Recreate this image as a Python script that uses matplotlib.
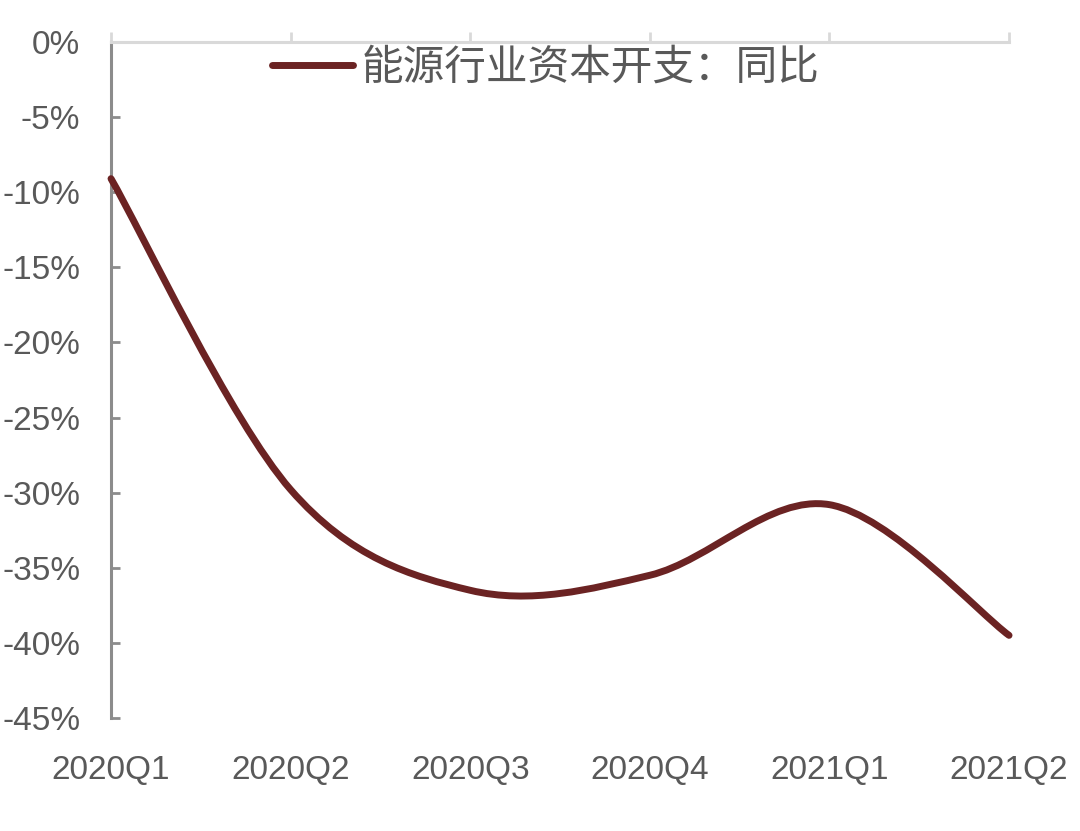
import matplotlib
matplotlib.use("Agg")
import matplotlib.pyplot as plt
import numpy as np
from matplotlib.path import Path
from matplotlib.patches import PathPatch
from matplotlib.lines import Line2D
from matplotlib.ticker import FuncFormatter

quarters = ["2020Q1", "2020Q2", "2020Q3", "2020Q4", "2021Q1", "2021Q2"]
capex_yoy = [-9.1, -29.8, -36.5, -35.5, -30.8, -39.5]
y_ticks = [0, -5, -10, -15, -20, -25, -30, -35, -40, -45]
series_name = "能源行业资本开支：同比"

LINE_COLOR = "#6b2323"
TEXT_COLOR = "#595959"

plt.rcParams["font.family"] = ["Liberation Sans", "DejaVu Sans"]


def smooth_path(xs, ys):
    # Excel-style smoothed line: Catmull-Rom segments as cubic Beziers
    pts = np.column_stack([xs, ys]).astype(float)
    n = len(pts)
    verts = [pts[0]]
    codes = [Path.MOVETO]
    for i in range(n - 1):
        p0 = pts[max(i - 1, 0)]
        p1 = pts[i]
        p2 = pts[i + 1]
        p3 = pts[min(i + 2, n - 1)]
        c1 = p1 + (p2 - p0) / 6.0
        c2 = p2 - (p3 - p1) / 6.0
        verts += [c1, c2, p2]
        codes += [Path.CURVE4] * 3
    return Path(verts, codes)


fig = plt.figure(figsize=(10.8, 8.31), dpi=100)
ax = fig.add_axes([0.1028, 0.136, 0.8315, 0.8135])

x = np.arange(len(quarters))
patch = PathPatch(smooth_path(x, capex_yoy), facecolor="none", edgecolor=LINE_COLOR,
                  lw=5, capstyle="round", joinstyle="round", clip_on=False, zorder=3)
ax.add_patch(patch)

ax.set_xlim(0, len(quarters) - 1)
ax.set_ylim(-45, 0)
ax.set_xticks(x)
ax.set_xticklabels(quarters)
ax.set_yticks(y_ticks)
ax.yaxis.set_major_formatter(FuncFormatter(lambda v, _: f"{v:.0f}%"))

for side in ("right", "bottom"):
    ax.spines[side].set_visible(False)
ax.spines["top"].set_color("#d9d9d9")
ax.spines["top"].set_linewidth(2.2)
ax.spines["left"].set_color("#8c8c8c")
ax.spines["left"].set_linewidth(2.2)

ax.tick_params(axis="x", top=True, bottom=False, labelbottom=True, labeltop=False,
               direction="out", length=7, width=2, color="#d9d9d9",
               labelsize=24, labelcolor=TEXT_COLOR, pad=20)
ax.tick_params(axis="y", direction="in", length=6.5, width=2, color="#8c8c8c",
               labelsize=24, labelcolor=TEXT_COLOR, pad=22)

handle = Line2D([0], [0], color=LINE_COLOR, lw=5, solid_capstyle="round")
leg = ax.legend([handle], [series_name], loc="center", bbox_to_anchor=(0.484, 0.961),
                frameon=False, handlelength=1.95, handletextpad=0.22,
                prop={"family": ["Noto Sans CJK SC", "DejaVu Sans"], "size": 30})
for t in leg.get_texts():
    t.set_color(TEXT_COLOR)

fig.savefig("out.png", dpi=100)
